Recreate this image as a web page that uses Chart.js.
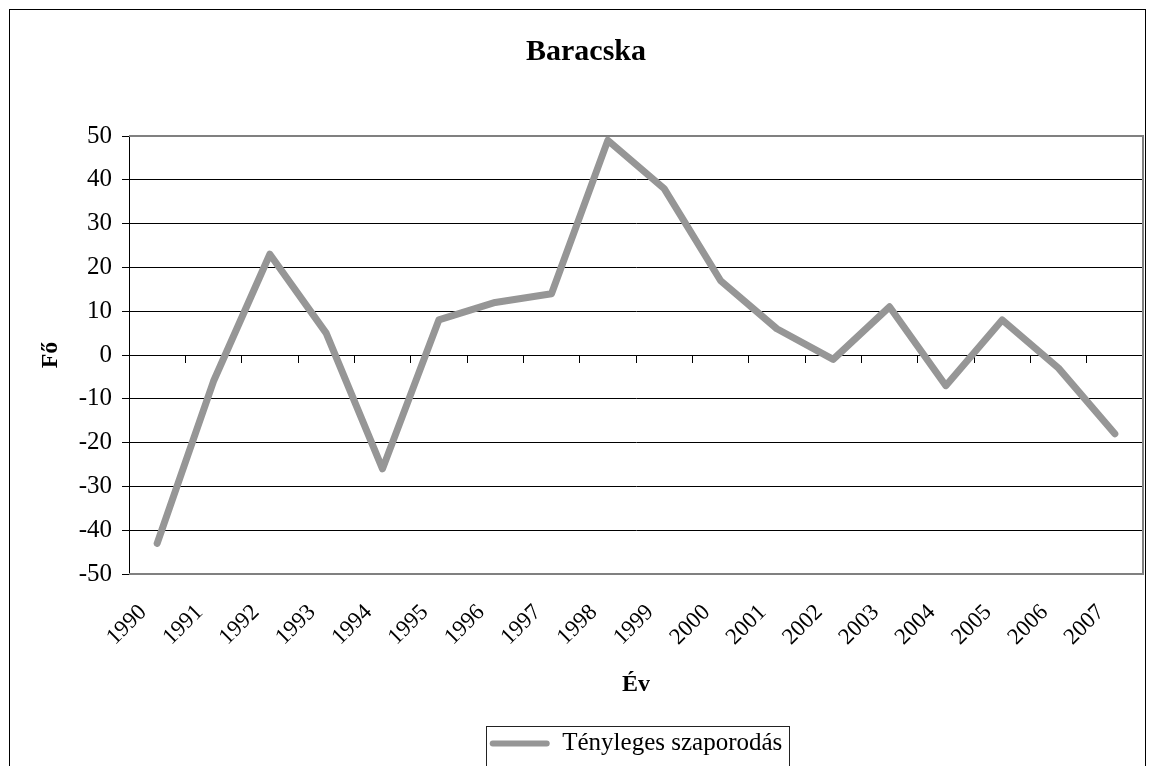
<!DOCTYPE html>
<html lang="hu">
<head>
<meta charset="utf-8">
<title>Baracska</title>
<script src="https://cdn.jsdelivr.net/npm/chart.js@4"></script>
<style>
  html, body { margin: 0; padding: 0; background: #fff; overflow: hidden; }
  #wrap { position: relative; width: 1155px; height: 766px; }
</style>
</head>
<body>
<div id="wrap"><canvas id="c" width="1155" height="766"></canvas></div>
<script>
// Tényleges szaporodás (natural growth), Baracska, 1990–2007
const years = ['1990', '1991', '1992', '1993', '1994', '1995', '1996', '1997', '1998',
               '1999', '2000', '2001', '2002', '2003', '2004', '2005', '2006', '2007'];
const growth = [-43, -6, 23, 5, -26, 8, 12, 14, 49, 38, 17, 6, -1, 11, -7, 8, -3, -18];
const seriesName = 'Tényleges szaporodás';
const chartTitle = 'Baracska';
const xTitle = 'Év';
const yTitle = 'Fő';
const yMin = -50;
const yMax = 50;
const yStep = 10;

const SERIF = '"Liberation Serif", "Times New Roman", Times, serif';
const LINE_GREY = '#969696';

// Grey frame on the top, right and bottom edges of the plot area
const plotFrame = {
  id: 'plotFrame',
  beforeDatasetsDraw(chart) {
    const { ctx, chartArea: a } = chart;
    ctx.save();
    ctx.strokeStyle = '#808080';
    ctx.lineWidth = 2;
    ctx.beginPath();
    ctx.moveTo(a.left, a.top);
    ctx.lineTo(a.right, a.top);
    ctx.lineTo(a.right, a.bottom);
    ctx.lineTo(a.left, a.bottom);
    ctx.stroke();
    ctx.restore();
  }
};

// Outer chart border and the box around the legend
const borders = {
  id: 'borders',
  afterDraw(chart) {
    const ctx = chart.ctx;
    ctx.save();
    ctx.strokeStyle = '#000';
    ctx.lineWidth = 1;
    ctx.strokeRect(9.5, 9.5, chart.width - 19, chart.height + 20);
    const hb = chart.legend && chart.legend.legendHitBoxes[0];
    if (hb) {
      ctx.strokeStyle = '#222';
      ctx.strokeRect(Math.round(hb.left - 4) + 0.5, Math.round(hb.top - 5) + 0.5,
                     Math.round(hb.width + 10), 100);
    }
    ctx.restore();
  }
};

new Chart(document.getElementById('c'), {
  type: 'line',
  data: {
    labels: years,
    datasets: [{
      label: seriesName,
      data: growth,
      xAxisID: 'x',
      yAxisID: 'y',
      borderColor: LINE_GREY,
      backgroundColor: LINE_GREY,
      borderWidth: 7,
      borderCapStyle: 'round',
      borderJoinStyle: 'round',
      pointRadius: 0,
      pointHoverRadius: 0,
      tension: 0,
      fill: false
    }]
  },
  options: {
    responsive: false,
    animation: false,
    events: [],
    layout: { padding: { left: 29, right: 12, top: 0, bottom: 0 } },
    plugins: {
      tooltip: { enabled: false },
      title: {
        display: true,
        text: chartTitle,
        color: '#000',
        font: { family: SERIF, size: 30, weight: 'bold' },
        padding: { top: 34, bottom: 66 }
      },
      legend: {
        display: true,
        position: 'bottom',
        fullSize: false,
        align: 'center',
        labels: {
          boxWidth: 60,
          boxHeight: 6,
          padding: 10,
          color: '#000',
          useBorderRadius: true,
          borderRadius: 3,
          font: { family: SERIF, size: 25 },
          generateLabels(chart) {
            return chart.data.datasets.map((ds, i) => ({
              text: ds.label,
              fillStyle: ds.borderColor,
              strokeStyle: ds.borderColor,
              lineWidth: 0,
              borderRadius: 3,
              hidden: false,
              datasetIndex: i,
              fontColor: '#000'
            }));
          }
        }
      }
    },
    scales: {
      x: {
        type: 'category',
        position: 'bottom',
        offset: true,
        grid: { display: false, drawTicks: false },
        border: { display: false },
        ticks: {
          autoSkip: false,
          minRotation: 45,
          maxRotation: 45,
          padding: 25,
          labelOffset: -14,
          color: '#000',
          font: { family: SERIF, size: 23 }
        },
        title: {
          display: true,
          text: xTitle,
          color: '#000',
          font: { family: SERIF, size: 24, weight: 'bold' },
          padding: { top: 0, bottom: 22 }
        },
        afterFit(scale) {
          scale.height = 147;
          scale.paddingLeft = 0;
          scale.paddingRight = 0;
        }
      },
      // category axis line crossing at zero, with tick marks between years
      xz: {
        type: 'category',
        position: { y: 0 },
        offset: true,
        grid: { offset: true, drawOnChartArea: false, tickLength: 7, tickColor: '#000', color: '#000' },
        border: { display: true, color: '#000', width: 1 },
        ticks: { display: false }
      },
      y: {
        type: 'linear',
        position: 'left',
        min: yMin,
        max: yMax,
        ticks: {
          stepSize: yStep,
          padding: 10,
          color: '#000',
          font: { family: SERIF, size: 25 }
        },
        grid: {
          color: (c) => (c.tick && Math.abs(c.tick.value) === yMax) ? 'rgba(0,0,0,0)' : '#000',
          tickColor: '#000',
          tickLength: 7,
          lineWidth: 1
        },
        border: { display: true, color: '#000', width: 1 },
        title: {
          display: true,
          text: yTitle,
          color: '#000',
          font: { family: SERIF, size: 24, weight: 'bold' },
          padding: { top: 7, bottom: 0 }
        },
        afterFit(scale) { scale.width = 100; }
      }
    }
  },
  plugins: [plotFrame, borders]
});
</script>
</body>
</html>
